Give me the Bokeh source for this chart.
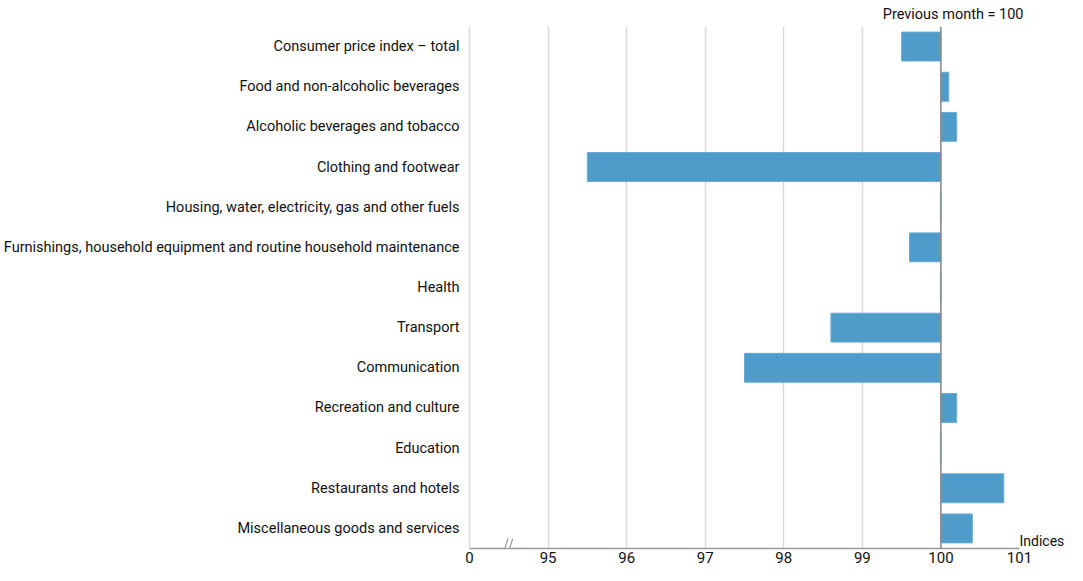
from bokeh.plotting import figure
from bokeh.models import (FactorRange, FixedTicker, Span, ColumnDataSource, CategoricalAxis)
from bokeh.embed import file_html
from bokeh.resources import INLINE

categories = [
    "Consumer price index – total",
    "Food and non-alcoholic beverages",
    "Alcoholic beverages and tobacco",
    "Clothing and footwear",
    "Housing, water, electricity, gas and other fuels",
    "Furnishings, household equipment and routine household maintenance",
    "Health",
    "Transport",
    "Communication",
    "Recreation and culture",
    "Education",
    "Restaurants and hotels",
    "Miscellaneous goods and services",
]
values = [99.5, 100.1, 100.2, 95.5, 100.0, 99.6, 100.0, 98.6, 97.5, 100.2, 100.0, 100.8, 100.4]
baseline = 100
tick_values = [94, 95, 96, 97, 98, 99, 100, 101]
tick_labels = ["0", "95", "96", "97", "98", "99", "100", "101"]
grid_values = [95, 96, 97, 98, 99, 100, 101]
break_at = 94.48
unit_label = "Indices"
base_note = "Previous month = 100"

FONT = "Roboto"
BAR = "#4f9bca"
TXT = "#111111"

src = ColumnDataSource(dict(cat=categories, left=[min(v, baseline) for v in values],
                            right=[max(v, baseline) for v in values]))

p = figure(width=1067, height=565, output_backend="svg", toolbar_location=None,
           y_range=FactorRange(factors=list(reversed(categories)), range_padding=0),
           x_range=(94, 101), min_border_left=0, min_border_right=0,
           min_border_top=0, min_border_bottom=0, title=base_note)
p.title.align = "right"
p.title.text_font = FONT
p.title.text_font_size = "14.5px"
p.title.text_font_style = "normal"
p.title.text_color = TXT
p.title.standoff = 7
p.title.offset = -4

p.hbar(y="cat", left="left", right="right", height=0.72, source=src,
       fill_color=BAR, line_color="#6aaad4", line_width=1)

p.outline_line_color = None
p.background_fill_color = "white"

p.xgrid.ticker = FixedTicker(ticks=grid_values)
p.xgrid.grid_line_color = "#d9d9d9"
p.xgrid.grid_line_width = 1.5
p.ygrid.grid_line_color = None

p.xaxis.ticker = FixedTicker(ticks=tick_values)
p.xaxis.major_label_overrides = {t: l for t, l in zip(tick_values, tick_labels)}
p.xaxis.axis_line_color = "#9a9a9a"
p.xaxis.axis_line_width = 1.5
p.xaxis.major_tick_line_color = None
p.xaxis.major_tick_out = 0
p.xaxis.major_tick_in = 0
p.xaxis.minor_tick_line_color = None
p.xaxis.major_label_text_font = FONT
p.xaxis.major_label_text_font_size = "15px"
p.xaxis.major_label_text_color = TXT
p.xaxis.major_label_standoff = 3

p.yaxis.axis_line_color = "#d9d9d9"
p.yaxis.axis_line_width = 1.5
p.yaxis.major_tick_line_color = None
p.yaxis.major_tick_out = 0
p.yaxis.major_tick_in = 0
p.yaxis.minor_tick_line_color = None
p.yaxis.major_label_text_font = FONT
p.yaxis.major_label_text_font_size = "14.5px"
p.yaxis.major_label_text_color = TXT
p.yaxis.major_label_standoff = 10

# unit label at the right end of the value axis
p.extra_y_ranges = {"unit": FactorRange(factors=[unit_label, " "], factor_padding=31,
                                        range_padding=0)}
unit_axis = CategoricalAxis(y_range_name="unit")
unit_axis.axis_line_color = None
unit_axis.major_tick_line_color = None
unit_axis.major_tick_out = 0
unit_axis.major_tick_in = 0
unit_axis.minor_tick_line_color = None
unit_axis.major_label_text_font = FONT
unit_axis.major_label_text_font_size = "14px"
unit_axis.major_label_text_color = TXT
unit_axis.major_label_standoff = 0
p.add_layout(unit_axis, "right")

p.add_layout(Span(location=baseline, dimension="height", line_color="#8c8c8c", line_width=1.5))

# axis break marks
p.segment(x0=[break_at - 0.07, break_at - 0.01], y0=[-0.25, -0.25],
          x1=[break_at + 0.01, break_at + 0.07], y1=[0.25, 0.25],
          line_color="#9a9a9a", line_width=1.2)

open("out.html", "w").write(file_html(p, INLINE))
